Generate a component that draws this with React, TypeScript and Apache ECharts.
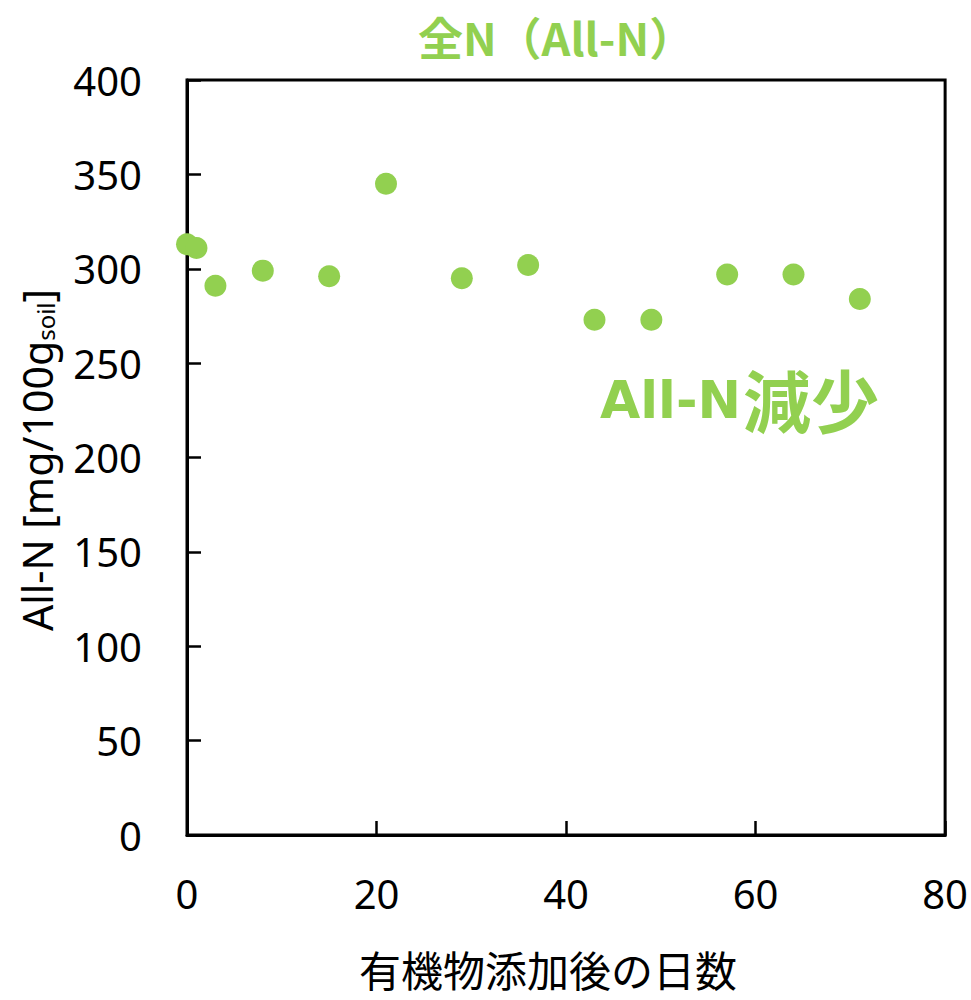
import React, { useEffect, useRef } from "react";
import * as echarts from "echarts";

// Days after organic matter was added, and total nitrogen measured on each day
const days = [0, 1, 3, 8, 15, 21, 29, 36, 43, 49, 57, 64, 71];
const allN = [313, 311, 291, 299, 296, 345, 295, 302, 273, 273, 297, 297, 284];

const xTicks = { min: 0, max: 80, interval: 20 };
const yTicks = { min: 0, max: 400, interval: 50 };

const titleText = "全N（All-N）";
const noteLatin = "All-N";
const noteCjk = "減少";
const xName = "有機物添加後の日数";
const yNameMain = "All-N [mg/100g";
const yNameSub = "soil";
const yNameEnd = "]";

const GREEN = "#92D050";
const LATIN = "'Noto Sans', sans-serif";
const WIDE = "'DejaVu Sans', sans-serif";
const CJK = "'Noto Sans CJK JP', sans-serif";

export default function App() {
  const ref = useRef<HTMLDivElement>(null);

  useEffect(() => {
    document.body.style.margin = "0";
    if (!ref.current) return;
    const chart = echarts.init(ref.current, undefined, { renderer: "svg" });

    const axisCommon = {
      type: "value" as const,
      axisLine: { show: true, lineStyle: { color: "#000", width: 3 } },
      axisTick: { show: true, inside: true, length: 14, lineStyle: { color: "#000", width: 2.5 } },
      splitLine: { show: false },
    };

    chart.setOption({
      animation: false,
      backgroundColor: "#fff",
      grid: {
        left: 187,
        top: 80,
        width: 760,
        height: 755,
        show: true,
        borderColor: "#000",
        borderWidth: 3,
        backgroundColor: "transparent",
      },
      xAxis: {
        ...axisCommon,
        min: xTicks.min,
        max: xTicks.max,
        interval: xTicks.interval,
        axisLabel: { fontSize: 40, color: "#000", fontFamily: LATIN, margin: 38 },
      },
      yAxis: {
        ...axisCommon,
        min: yTicks.min,
        max: yTicks.max,
        interval: yTicks.interval,
        axisLabel: { fontSize: 40, color: "#000", fontFamily: LATIN, margin: 45 },
      },
      series: [
        {
          type: "scatter",
          data: days.map((d, i) => [d, allN[i]]),
          symbol: "circle",
          symbolSize: 22,
          itemStyle: { color: GREEN, opacity: 1 },
        },
      ],
      graphic: [
        {
          type: "text",
          x: 556,
          y: 36,
          style: {
            text: titleText,
            font: `bold 45px ${CJK}`,
            fill: GREEN,
            align: "center",
            verticalAlign: "middle",
          },
        },
        {
          type: "text",
          x: 600,
          y: 400,
          style: {
            text: noteLatin,
            font: `bold 52px ${WIDE}`,
            fill: GREEN,
            align: "left",
            verticalAlign: "middle",
          },
        },
        {
          type: "text",
          x: 743,
          y: 398,
          style: {
            text: noteCjk,
            font: `bold 68px ${CJK}`,
            fill: GREEN,
            align: "left",
            verticalAlign: "middle",
          },
        },
        {
          type: "text",
          x: 548,
          y: 968,
          style: {
            text: xName,
            font: `42px ${CJK}`,
            fill: "#000",
            align: "center",
            verticalAlign: "middle",
          },
        },
        {
          type: "text",
          x: 37,
          y: 460,
          rotation: Math.PI / 2,
          style: {
            text: `{m|${yNameMain}}{s|${yNameSub}}{m|${yNameEnd}}`,
            align: "center",
            verticalAlign: "middle",
            rich: {
              m: { fontSize: 41, fontFamily: LATIN, fill: "#000", lineHeight: 41 },
              s: { fontSize: 24, fontFamily: LATIN, fill: "#000", lineHeight: 15, verticalAlign: "bottom" },
            },
          },
        },
      ],
    });

    return () => chart.dispose();
  }, []);

  return <div ref={ref} style={{ width: 971, height: 1000 }} />;
}
